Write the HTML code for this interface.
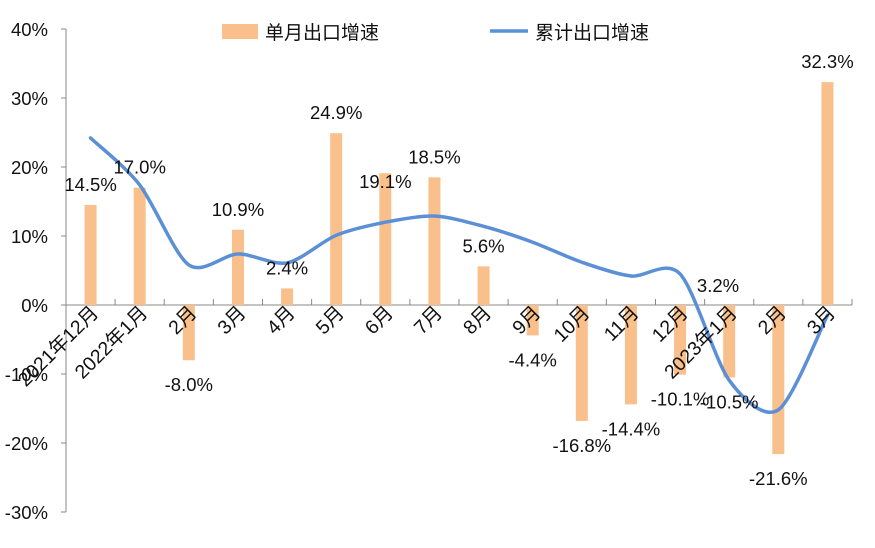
<!DOCTYPE html>
<html><head><meta charset="utf-8"><style>
body{margin:0;background:#fff}
svg text{font-family:"Liberation Sans","Noto Sans CJK SC",sans-serif;font-size:18.5px;fill:#111}
</style></head><body>
<svg id="chart" width="875" height="543">
<g id="axes"></g><g id="bars"></g><g id="line"></g><g id="labels"></g>
<g>
<rect x="222" y="24" width="36" height="15" fill="#F9C08C"/>
<text x="265" y="39" style="font-size:19px">单月出口增速</text>
<line x1="490" y1="31" x2="528" y2="31" stroke="#5B8FD6" stroke-width="3.5"/>
<text x="535" y="39" style="font-size:19px">累计出口增速</text>
</g>
</svg>
<script>
const categories=["2021年12月","2022年1月","2月","3月","4月","5月","6月","7月","8月","9月","10月","11月","12月","2023年1月","2月","3月"];
const monthly=[14.5,17.0,-8.0,10.9,2.4,24.9,19.1,18.5,5.6,-4.4,-16.8,-14.4,-10.1,-10.5,-21.6,32.3];
const cumulative=[24.2,17.4,5.8,7.4,6.1,10.1,12.0,12.9,11.4,9.1,6.2,4.2,4.5,-10.9,-15.2,-1.5];
const yTicks=[40,30,20,10,0,-10,-20,-30];
const NS="http://www.w3.org/2000/svg";
const x0=66,step=49.125;
const X=i=>x0+step*(i+0.5);
const Y=v=>305-v*6.9;
function mk(tag,attrs,parent){const e=document.createElementNS(NS,tag);for(const k in attrs)e.setAttribute(k,attrs[k]);parent.appendChild(e);return e;}
const axes=document.getElementById('axes'),bars=document.getElementById('bars'),lineG=document.getElementById('line'),labels=document.getElementById('labels');
let e=mk('line',{x1:x0,y1:Y(40),x2:x0,y2:Y(-30),stroke:'#888'},axes);


yTicks.forEach(t=>{
  let l=mk('line',{x1:x0-5,y1:Y(t),x2:x0,y2:Y(t),stroke:'#888'},axes);
  
  
  let tx=mk('text',{x:x0-18,y:Y(t)+7,'text-anchor':'end'},axes);tx.textContent=t+'%';
  
  
});
e=mk('line',{x1:x0,y1:Y(0),x2:x0+step*categories.length,y2:Y(0),stroke:'#888'},axes);


for(let i=1;i<=categories.length;i++){
  let l=mk('line',{x1:x0+step*i,y1:Y(0)-6,x2:x0+step*i,y2:Y(0),stroke:'#888'},axes);
  
  
}
monthly.forEach((v,i)=>{
  let r=mk('rect',{x:X(i)-6,y:Math.min(Y(v),Y(0)),width:12,height:Math.abs(Y(v)-Y(0)),fill:'#F9C08C'},bars);
  
  
  let ly=v>=0?Y(v)-14:Y(v)+31;
  if(i===6)ly=Y(v)+15;
  let t=mk('text',{x:X(i),y:ly,'text-anchor':'middle'},labels);t.textContent=v.toFixed(1)+'%';
  
  
});
let t=mk('text',{x:718,y:292,'text-anchor':'middle'},labels);t.textContent='3.2%';


categories.forEach((c,i)=>{
  let cx=X(i)+9,cy=314;
  let tx=mk('text',{x:cx,y:cy,'text-anchor':'end',transform:`rotate(-45 ${cx} ${cy})`,style:'font-size:19.5px'},labels);tx.textContent=c;
  
  
});
const pts=cumulative.map((v,i)=>[X(i),Y(v)]);
let d='M'+pts[0][0]+','+pts[0][1];
for(let i=0;i<pts.length-1;i++){
  const p0=pts[Math.max(0,i-1)],p1=pts[i],p2=pts[i+1],p3=pts[Math.min(pts.length-1,i+2)];
  const k=1/7;
  d+=` C${p1[0]+(p2[0]-p0[0])*k},${p1[1]+(p2[1]-p0[1])*k} ${p2[0]-(p3[0]-p1[0])*k},${p2[1]-(p3[1]-p1[1])*k} ${p2[0]},${p2[1]}`;
}
let p=mk('path',{d:d,fill:'none',stroke:'#5B8FD6','stroke-width':3.5,'stroke-linecap':'round'},lineG);


</script>
</body></html>
